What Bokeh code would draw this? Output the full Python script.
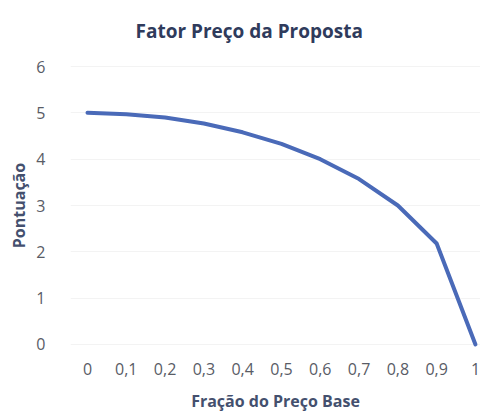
from bokeh.plotting import figure
from bokeh.models import FixedTicker, Range1d, Title
from bokeh.embed import file_html
from bokeh.resources import INLINE

frac = [0.0, 0.1, 0.2, 0.3, 0.4, 0.5, 0.6, 0.7, 0.8, 0.9, 1.0]
score = [5.0, 4.97, 4.9, 4.77, 4.58, 4.33, 4.0, 3.57, 3.0, 2.18, 0.0]
x_ticks = [0.0, 0.1, 0.2, 0.3, 0.4, 0.5, 0.6, 0.7, 0.8, 0.9, 1.0]
x_labels = ["0", "0,1", "0,2", "0,3", "0,4", "0,5", "0,6", "0,7", "0,8", "0,9", "1"]
y_ticks = [0, 1, 2, 3, 4, 5, 6]
title_text = "Fator Preço da Proposta"

FONT = "Open Sans"

p = figure(frame_width=410, frame_height=290, output_backend="svg", toolbar_location=None,
           x_range=Range1d(-0.0438, 1.013), y_range=Range1d(-0.13, 6.13),
           min_border_left=70, min_border_right=0, min_border_top=60, min_border_bottom=46)
p.outline_line_color = None
p.background_fill_color = "white"
p.border_fill_color = "white"

p.title = Title(text=title_text, align="left", offset=65, vertical_align="top",
                text_font=FONT, text_font_size="19px", text_font_style="bold",
                text_color="#2f3b5c", standoff=30)

p.line(frac, score, line_color="#4a6ab8", line_width=4, line_cap="round", line_join="round")

p.xaxis.ticker = FixedTicker(ticks=x_ticks)
p.xaxis.major_label_overrides = {t: l for t, l in zip(x_ticks, x_labels)}
p.yaxis.ticker = FixedTicker(ticks=y_ticks)

for ax in (p.xaxis[0], p.yaxis[0]):
    ax.axis_line_color = None
    ax.major_tick_line_color = None
    ax.minor_tick_line_color = None
    ax.major_label_text_font = FONT
    ax.major_label_text_font_size = "16px"
    ax.major_label_text_color = "#595c66"
    ax.axis_label_text_font = FONT
    ax.axis_label_text_font_size = "16px"
    ax.axis_label_text_font_style = "bold"
    ax.axis_label_text_color = "#44506e"

p.xaxis.axis_label = "Fração do Preço Base"
p.yaxis.axis_label = "Pontuação"
p.xaxis.major_label_standoff = 6
p.yaxis.major_label_standoff = 19
p.xaxis.axis_label_standoff = 12
p.yaxis.axis_label_standoff = 3

p.xgrid.grid_line_color = None
p.ygrid.grid_line_color = "#f3f3f3"
p.ygrid.grid_line_width = 1

open("out.html", "w").write(file_html(p, INLINE))
